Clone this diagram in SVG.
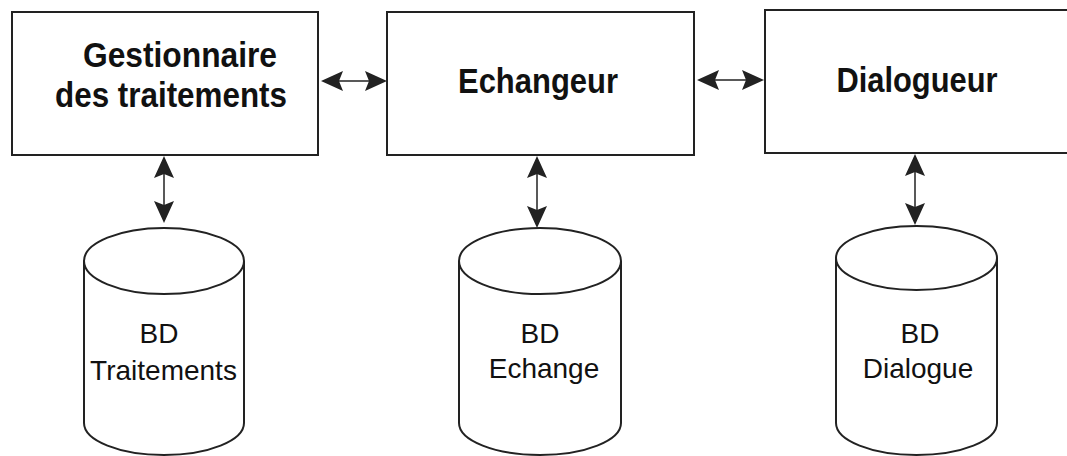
<svg xmlns="http://www.w3.org/2000/svg" width="1067" height="456" viewBox="0 0 1067 456">
<style>
.box{fill:#fff;stroke:#222;stroke-width:2}
.cyl{fill:#fff;stroke:#222;stroke-width:2}
.title{font-family:"Liberation Sans",Arial,sans-serif;font-weight:bold;font-size:35px;fill:#111;text-anchor:middle}
.lbl{font-family:"Liberation Sans",Arial,sans-serif;font-size:28px;fill:#111;text-anchor:middle}
.shaft{stroke:#222;stroke-width:1.5}
.head{fill:#222}
</style>
<defs>
<path id="hR" d="M0,0 L-22,-10 L-18,0 L-22,10 Z"/>
</defs>
<rect width="1067" height="456" fill="#fff"/>
<g id="connectors">
<line class="shaft" x1="330" y1="81" x2="378" y2="81"/>
<use href="#hR" class="head" transform="translate(321,81) rotate(180)"/>
<use href="#hR" class="head" transform="translate(387,81)"/>
<line class="shaft" x1="706" y1="80" x2="755" y2="80"/>
<use href="#hR" class="head" transform="translate(697,80) rotate(180)"/>
<use href="#hR" class="head" transform="translate(764,80)"/>
<line class="shaft" x1="164" y1="165" x2="164" y2="214"/>
<use href="#hR" class="head" transform="translate(164,156) rotate(-90)"/>
<use href="#hR" class="head" transform="translate(164,223) rotate(90)"/>
<line class="shaft" x1="537" y1="165" x2="537" y2="219"/>
<use href="#hR" class="head" transform="translate(537,156) rotate(-90)"/>
<use href="#hR" class="head" transform="translate(537,228) rotate(90)"/>
<line class="shaft" x1="915" y1="163" x2="915" y2="216"/>
<use href="#hR" class="head" transform="translate(915,154) rotate(-90)"/>
<use href="#hR" class="head" transform="translate(915,225) rotate(90)"/>
</g>
<g id="gestionnaire">
<rect class="box" x="12" y="12" width="306" height="143"/>
<text class="title" x="180" y="67" textLength="194" lengthAdjust="spacingAndGlyphs">Gestionnaire</text>
<text class="title" x="171" y="107" textLength="232" lengthAdjust="spacingAndGlyphs">des traitements</text>
</g>
<g id="echangeur">
<rect class="box" x="387" y="12" width="307" height="143"/>
<text class="title" x="538" y="93" textLength="160" lengthAdjust="spacingAndGlyphs">Echangeur</text>
</g>
<g id="dialogueur">
<rect class="box" x="765" y="10" width="310" height="143"/>
<text class="title" x="917" y="92" textLength="161" lengthAdjust="spacingAndGlyphs">Dialogueur</text>
</g>
<g id="bd-traitements">
<path class="cyl" d="M84,261 L84,423 A80,32 0 0 0 244,423 L244,261"/>
<ellipse class="cyl" cx="164" cy="261" rx="80" ry="33"/>
<text class="lbl" x="159" y="343">BD</text>
<text class="lbl" x="163.5" y="380">Traitements</text>
</g>
<g id="bd-echange">
<path class="cyl" d="M459,261 L459,423 A81,32 0 0 0 621,423 L621,261"/>
<ellipse class="cyl" cx="540" cy="261" rx="81" ry="33"/>
<text class="lbl" x="540" y="343">BD</text>
<text class="lbl" x="544" y="378">Echange</text>
</g>
<g id="bd-dialogue">
<path class="cyl" d="M836,258 L836,423 A80.5,32 0 0 0 997,423 L997,258"/>
<ellipse class="cyl" cx="916.5" cy="258" rx="80.5" ry="32"/>
<text class="lbl" x="920" y="343">BD</text>
<text class="lbl" x="918" y="378">Dialogue</text>
</g>
</svg>
